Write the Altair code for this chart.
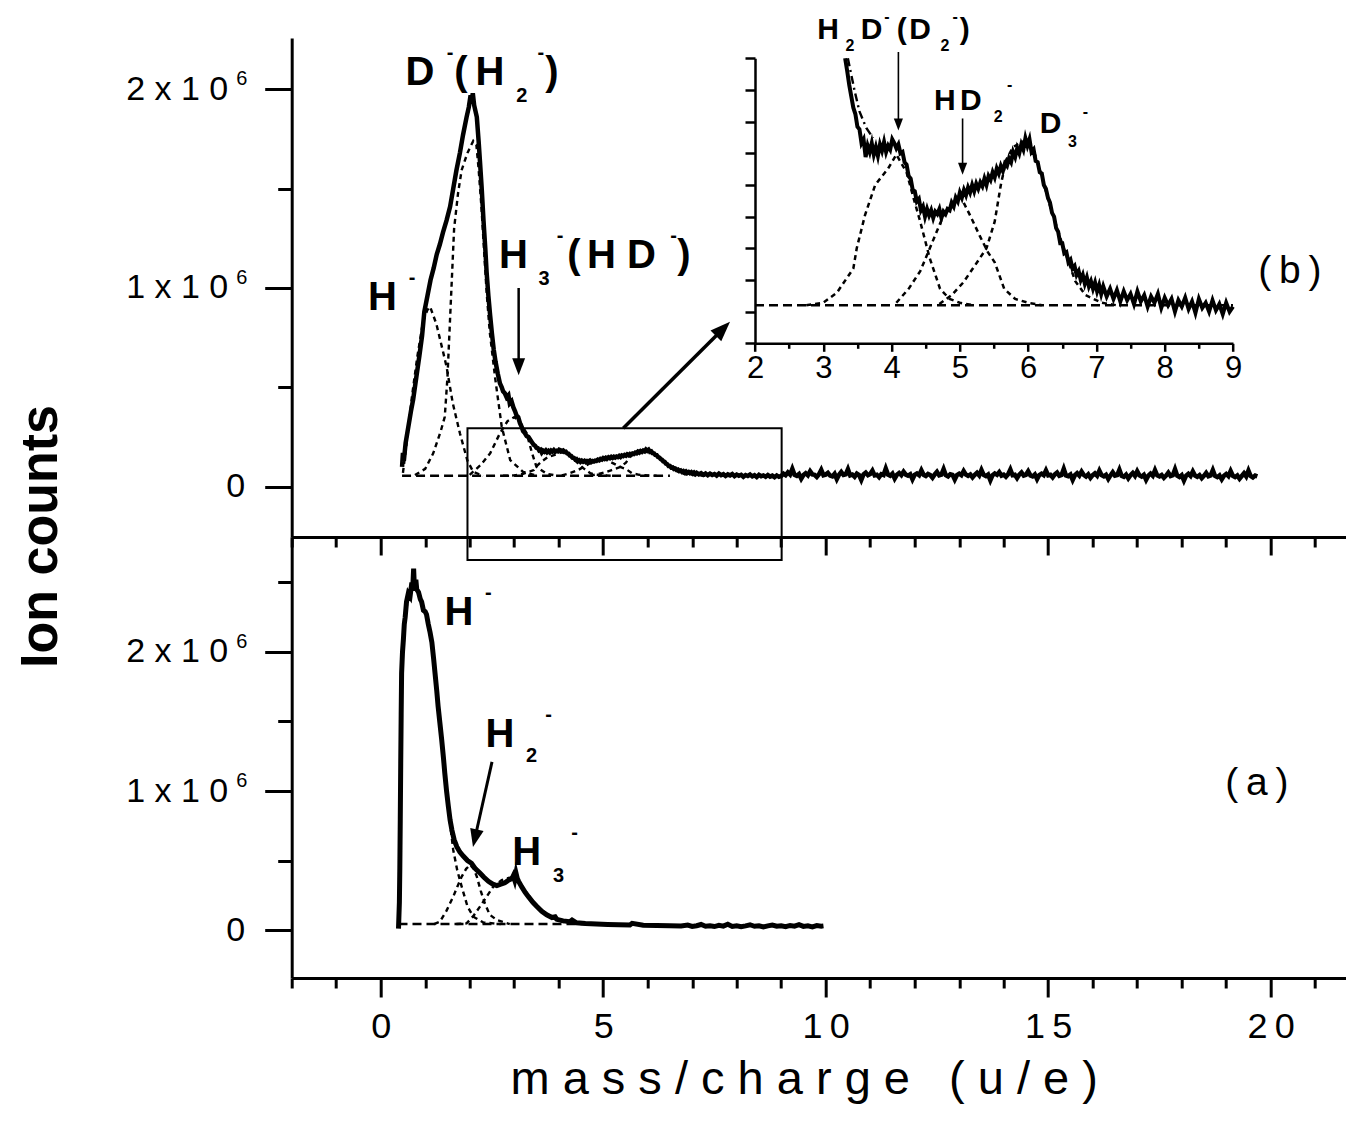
import altair as alt
import pandas as pd

FONT = "Liberation Sans"

# ---------------- spectra (ion counts, in units of 1e6) ----------------
upper_rise = [(0.48,0.10),(0.50,0.17),(0.52,0.13),(0.56,0.22),(0.62,0.30),(0.68,0.38),(0.73,0.44),(0.80,0.55),
 (0.87,0.66),(0.93,0.76),(0.98,0.88),(1.05,0.96),(1.12,1.04),(1.19,1.10),(1.26,1.17),(1.33,1.22),(1.40,1.28),
 (1.48,1.34),(1.56,1.41),(1.63,1.50),(1.70,1.59),(1.78,1.68),(1.85,1.77),(1.93,1.86),(1.98,1.91),(2.02,1.97),
 (2.04,1.94),(2.07,1.98),(2.10,1.92),(2.16,1.86),(2.20,1.74),(2.23,1.64),(2.27,1.50),(2.31,1.34),(2.35,1.20),
 (2.38,1.08),(2.42,0.96),(2.46,0.86),(2.50,0.77),(2.54,0.69),(2.58,0.63),(2.63,0.57),(2.68,0.52),(2.72,0.50),
 (2.75,0.48),(2.79,0.47),(2.83,0.45),(2.87,0.46),(2.90,0.42),(2.94,0.43),(2.98,0.40),(3.02,0.38),(3.05,0.36),
 (3.09,0.35),(3.13,0.32),(3.17,0.30),(3.20,0.28),(3.24,0.27),(3.28,0.255)]

upper_zoom = [(3.32,0.250),(3.35,0.240),(3.38,0.229),(3.41,0.220),(3.44,0.211),(3.47,0.206),(3.50,0.196),
 (3.53,0.194),(3.56,0.183),(3.59,0.186),(3.62,0.172),(3.65,0.181),(3.68,0.176),(3.71,0.183),(3.74,0.174),
 (3.77,0.180),(3.80,0.173),(3.83,0.182),(3.86,0.177),(3.89,0.184),(3.92,0.176),(3.95,0.181),(3.98,0.178),
 (4.01,0.186),(4.04,0.183),(4.07,0.179),(4.10,0.182),(4.13,0.175),(4.16,0.176),(4.19,0.168),(4.22,0.166),
 (4.25,0.157),(4.28,0.155),(4.31,0.146),(4.34,0.145),(4.37,0.137),(4.40,0.139),(4.43,0.130),(4.46,0.133),
 (4.49,0.125),(4.52,0.131),(4.55,0.126),(4.58,0.130),(4.61,0.124),(4.64,0.129),(4.67,0.127),(4.70,0.131),
 (4.73,0.124),(4.76,0.129),(4.79,0.127),(4.82,0.131),(4.85,0.130),(4.88,0.136),(4.91,0.133),(4.94,0.140),
 (4.97,0.137),(5.00,0.144),(5.03,0.140),(5.06,0.146),(5.09,0.142),(5.12,0.148),(5.15,0.144),(5.18,0.150),
 (5.21,0.145),(5.24,0.151),(5.27,0.147),(5.30,0.152),(5.33,0.149),(5.36,0.155),(5.39,0.150),(5.42,0.157),
 (5.45,0.154),(5.48,0.160),(5.51,0.156),(5.54,0.163),(5.57,0.159),(5.60,0.165),(5.63,0.161),(5.66,0.167),
 (5.69,0.165),(5.72,0.171),(5.75,0.168),(5.78,0.176),(5.81,0.172),(5.84,0.179),(5.87,0.175),(5.90,0.182),
 (5.93,0.178),(5.96,0.187),(5.99,0.181),(6.02,0.186),(6.05,0.176),(6.08,0.178),(6.11,0.169),(6.14,0.168),
 (6.17,0.160),(6.20,0.159),(6.23,0.150),(6.26,0.147),(6.29,0.140),(6.32,0.136),(6.35,0.128),(6.38,0.125),
 (6.41,0.116),(6.44,0.113),(6.47,0.104),(6.50,0.104),(6.53,0.096),(6.56,0.097),(6.59,0.089),(6.62,0.091),
 (6.65,0.084),(6.68,0.086),(6.71,0.079),(6.74,0.082),(6.77,0.075),(6.80,0.079),(6.83,0.072),(6.86,0.077),
 (6.89,0.070),(6.92,0.074),(6.95,0.068),(6.98,0.073),(7.01,0.066),(7.04,0.071),(7.07,0.064),(7.10,0.070),
 (7.15,0.062),(7.20,0.068),(7.25,0.060),(7.30,0.067),(7.35,0.058),(7.40,0.066),(7.45,0.059),(7.50,0.064),
 (7.55,0.056),(7.60,0.066),(7.65,0.058),(7.70,0.063),(7.75,0.054),(7.80,0.062),(7.85,0.057),(7.90,0.064),
 (7.95,0.053),(8.00,0.061),(8.05,0.055),(8.10,0.060),(8.15,0.050),(8.20,0.059),(8.25,0.054),(8.30,0.061),
 (8.35,0.052),(8.40,0.058),(8.45,0.049),(8.50,0.060),(8.55,0.053),(8.60,0.057),(8.65,0.050),(8.70,0.059),
 (8.75,0.051),(8.80,0.056),(8.85,0.048),(8.90,0.057),(8.95,0.050),(9.00,0.054)]

# long flat tail of the upper spectrum, sampled every 0.05 u/e from 9.05 to 19.70
upper_tail_start = 9.05
upper_tail_step = 0.05
upper_tail_y = [
 0.066,0.058,0.072,0.061,0.090,0.060,0.055,0.064,0.040,0.059,0.068,0.057,0.078,0.062,0.060,0.049,0.063,0.085,0.058,0.061,
 0.070,0.056,0.052,0.065,0.038,0.060,0.074,0.059,0.062,0.088,0.057,0.061,0.050,0.066,0.059,0.034,0.062,0.071,0.058,0.064,
 0.081,0.057,0.060,0.048,0.063,0.059,0.092,0.061,0.055,0.066,0.041,0.060,0.069,0.058,0.076,0.061,0.056,0.063,0.037,0.060,
 0.067,0.058,0.083,0.060,0.054,0.064,0.059,0.045,0.062,0.075,0.057,0.061,0.089,0.058,0.052,0.063,0.060,0.036,0.059,0.066,
 0.058,0.079,0.061,0.055,0.062,0.047,0.060,0.070,0.057,0.084,0.059,0.053,0.061,0.032,0.058,0.067,0.060,0.074,0.056,0.061,
 0.050,0.063,0.087,0.058,0.060,0.043,0.061,0.072,0.056,0.060,0.078,0.057,0.052,0.062,0.038,0.059,0.066,0.058,0.082,0.057,
 0.060,0.047,0.062,0.071,0.055,0.059,0.090,0.057,0.053,0.061,0.034,0.058,0.068,0.056,0.076,0.059,0.051,0.062,0.044,0.058,
 0.067,0.055,0.081,0.058,0.052,0.060,0.039,0.057,0.073,0.056,0.059,0.086,0.055,0.050,0.061,0.042,0.058,0.069,0.054,0.078,
 0.057,0.051,0.060,0.035,0.056,0.066,0.055,0.083,0.057,0.052,0.059,0.045,0.056,0.071,0.054,0.058,0.088,0.055,0.049,0.058,
 0.031,0.056,0.065,0.054,0.077,0.056,0.050,0.058,0.043,0.055,0.070,0.053,0.057,0.084,0.054,0.048,0.057,0.037,0.055,0.064,
 0.053,0.079,0.055,0.049,0.057,0.040,0.054,0.068,0.052,0.081,0.054,0.047,0.056,0.052]

lower_curve = [(0.40,0.01),(0.42,0.20),(0.43,0.45),(0.44,0.80),(0.45,1.20),(0.46,1.55),(0.47,1.85),(0.49,2.00),
 (0.51,2.09),(0.53,2.20),(0.55,2.25),(0.58,2.36),(0.62,2.42),(0.66,2.40),(0.70,2.50),(0.72,2.46),(0.74,2.60),
 (0.76,2.44),(0.79,2.52),(0.81,2.45),(0.85,2.43),(0.89,2.38),(0.92,2.36),(0.96,2.30),(1.00,2.29),(1.03,2.27),
 (1.07,2.20),(1.11,2.14),(1.15,2.07),(1.19,1.95),(1.22,1.85),(1.26,1.72),(1.29,1.61),(1.33,1.49),(1.37,1.37),
 (1.41,1.24),(1.44,1.13),(1.48,1.00),(1.52,0.89),(1.56,0.79),(1.60,0.72),(1.65,0.65),(1.71,0.60),(1.78,0.56),
 (1.86,0.53),(1.95,0.50),(2.04,0.48),(2.13,0.44),(2.23,0.41),(2.32,0.38),(2.42,0.35),(2.52,0.33),(2.61,0.32),
 (2.70,0.33),(2.79,0.34),(2.88,0.36),(2.95,0.37),(2.98,0.39),(3.01,0.36),(3.04,0.41),(3.07,0.37),(3.10,0.35),
 (3.17,0.31),(3.25,0.27),(3.32,0.24),(3.42,0.20),(3.51,0.17),(3.62,0.135),(3.73,0.11),(3.85,0.09),(3.92,0.095),
 (3.96,0.077),(4.10,0.066),(4.25,0.06),(4.30,0.072),(4.40,0.052),(4.60,0.047),(4.85,0.043),(5.10,0.040),
 (5.35,0.038),(5.60,0.036),(5.65,0.048),(5.90,0.034),(6.20,0.032),(6.50,0.031),(6.75,0.029),(6.9,0.036),
 (7.0,0.026),(7.1,0.031),(7.2,0.040),(7.3,0.027),(7.4,0.030),(7.5,0.025),(7.6,0.034),(7.7,0.028),(7.8,0.042),
 (7.9,0.026),(8.0,0.031),(8.1,0.024),(8.2,0.030),(8.3,0.038),(8.4,0.027),(8.5,0.031),(8.6,0.022),(8.7,0.030),
 (8.8,0.036),(8.9,0.027),(9.0,0.030),(9.1,0.024),(9.2,0.033),(9.3,0.028),(9.4,0.039),(9.5,0.026),(9.6,0.030),
 (9.7,0.023),(9.8,0.032),(9.9,0.028),(9.95,0.030)]

# ---------------- fitted components (dashed) ----------------
up_comp_H = [(0.50,0.07),(0.60,0.25),(0.70,0.45),(0.82,0.65),(0.95,0.83),(1.05,0.89),(1.11,0.906),(1.25,0.82),
 (1.40,0.68),(1.48,0.604),(1.62,0.42),(1.78,0.269),(1.95,0.13),(2.08,0.075),(2.30,0.055)]
up_comp_D = [(0.77,0.059),(1.00,0.09),(1.18,0.168),(1.35,0.28),(1.44,0.352),(1.50,0.55),(1.55,0.80),(1.60,1.05),
 (1.65,1.30),(1.74,1.48),(1.82,1.594),(1.95,1.68),(2.08,1.74),(2.15,1.72),(2.20,1.60),(2.26,1.42),(2.32,1.20),
 (2.38,0.98),(2.45,0.78),(2.57,0.55),(2.72,0.302),(2.91,0.134),(3.20,0.075),(3.50,0.056)]
up_comp_H3 = [(2.00,0.06),(2.25,0.11),(2.46,0.168),(2.68,0.269),(2.85,0.33),(3.00,0.35),(3.12,0.33),(3.28,0.269),
 (3.40,0.17),(3.50,0.10),(3.73,0.065),(3.95,0.056)]
comp_H2D = [(2.75,0.055),(3.00,0.057),(3.20,0.065),(3.44,0.084),(3.49,0.100),(3.61,0.126),(3.76,0.150),
 (3.95,0.163),(4.07,0.174),(4.22,0.160),(4.32,0.140),(4.42,0.121),(4.56,0.092),(4.71,0.068),(4.85,0.060),
 (5.00,0.057),(5.20,0.055)]
comp_HD2 = [(4.07,0.057),(4.25,0.068),(4.42,0.082),(4.56,0.100),(4.76,0.126),(4.90,0.134),(5.00,0.142),
 (5.15,0.126),(5.29,0.110),(5.41,0.097),(5.51,0.089),(5.65,0.068),(5.81,0.060),(6.00,0.057),(6.20,0.055)]
comp_D3 = [(4.70,0.056),(4.88,0.063),(5.05,0.073),(5.19,0.084),(5.39,0.100),(5.51,0.121),(5.60,0.150),
 (5.68,0.170),(5.78,0.180),(5.95,0.185),(6.10,0.174),(6.20,0.157),(6.30,0.137),(6.49,0.105),(6.69,0.074),
 (6.84,0.063),(7.08,0.057),(7.30,0.055)]
envelope = [(3.36,0.250),(3.46,0.224),(3.53,0.208),(3.63,0.195),(3.73,0.187)]
up_baseline = [(0.48,0.055),(6.5,0.055)]
inset_baseline = [(2.0,0.055),(9.0,0.055)]

lo_comp_H = [(0.40,0.043),(0.42,0.30),(0.44,0.90),(0.46,1.60),(0.49,2.00),(0.55,2.25),(0.62,2.40),(0.72,2.46),
 (0.82,2.44),(0.92,2.35),(1.03,2.26),(1.15,2.06),(1.22,1.85),(1.29,1.60),(1.37,1.35),(1.44,1.12),(1.52,0.87),
 (1.63,0.576),(1.72,0.43),(1.82,0.312),(1.95,0.17),(2.08,0.096),(2.30,0.055),(2.53,0.048),(2.70,0.043)]
lo_comp_H2 = [(1.20,0.043),(1.33,0.06),(1.48,0.14),(1.63,0.24),(1.72,0.31),(1.82,0.384),(1.92,0.44),(2.01,0.468),
 (2.09,0.44),(2.16,0.384),(2.25,0.28),(2.34,0.192),(2.45,0.11),(2.61,0.072),(2.90,0.043)]
lo_comp_H3 = [(1.70,0.043),(1.93,0.048),(2.08,0.10),(2.23,0.168),(2.38,0.24),(2.53,0.312),(2.72,0.36),(2.98,0.384),
 (3.10,0.35),(3.20,0.288),(3.38,0.21),(3.58,0.144),(3.75,0.10),(3.96,0.072),(4.15,0.055),(4.33,0.048),(4.60,0.043)]
lo_baseline = [(0.40,0.043),(5.0,0.043)]

# ---------------- annotations (glyph, x, y, font size) in panel data units ----------------
up_labels = [("D",0.883,2.022,40),("-",1.557,2.154,20),("(",1.804,2.022,40),("H",2.456,2.022,40),
 ("2",3.17,1.938,20),("-",3.60,2.154,20),(")",3.85,2.022,40),
 ("H",0.04,0.889,40),("-",0.703,1.019,20),
 ("H",2.984,1.099,40),("3",3.67,1.015,20),("-",4.03,1.229,20),("(",4.344,1.099,40),("H",4.962,1.099,40),
 ("D",5.861,1.099,40),("-",6.58,1.229,20),(")",6.816,1.099,40)]
lo_labels = [("H",1.76,2.194,40),("-",2.42,2.381,20),("H",2.681,1.319,40),("2",3.389,1.211,20),
 ("-",3.771,1.506,20),("H",3.281,0.468,40),("3",3.996,0.347,20),("-",4.355,0.655,20)]
in_labels = [("H",3.069,0.2656,30),("2",3.39,0.256,16),("D",3.706,0.2656,30),("-",3.93,0.2785,16),
 ("(",4.148,0.2656,30),("D",4.416,0.2656,30),("2",4.78,0.256,16),("-",4.93,0.2785,16),(")",5.07,0.2656,30),
 ("H",4.78,0.209,30),("D",5.16,0.209,30),("2",5.56,0.1995,16),("-",5.73,0.225,16),
 ("D",6.33,0.1907,30),("3",6.65,0.180,16),("-",6.84,0.204,16)]
panel_tags = {"b": (20.43, 1.025), "a": (19.69, 0.971)}

# exponent of the y tick labels (x10^6), one per labelled non-zero tick
exp_ticks = [1, 2]
exp_text = "6"

# arrows: (x_tail, y_tail, x_end, y_end, width) and heads (x_tip, y_tip, angle, size)
up_arrows = [(3.10,1.0,3.10,0.63,2.5),(5.45,0.294,7.60,0.774,3.5)]
up_heads = [(3.10,0.561,0,1156),(7.85,0.830,225,1600)]
lo_arrows = [(2.501,1.209,2.142,0.696,3.0)]
lo_heads = [(2.074,0.597,12.6,1296)]
in_arrows = [(4.10,0.255,4.10,0.200,1.6),(5.04,0.2025,5.04,0.166,1.6)]
in_heads = [(4.10,0.193,0,576),(5.04,0.158,0,576)]
zoom_box = [(1.95, 9.01, 0.294, -0.369)]

# ---------------- helpers ----------------
def pts(p):
    return pd.DataFrame({"x": [a for a, b in p], "y": [b for a, b in p]})

def comps(d):
    rows = []
    for k, p in d.items():
        for a, b in p:
            rows.append({"x": a, "y": b, "c": k})
    return pd.DataFrame(rows)

def labels(p):
    return pd.DataFrame({"t": [a[0] for a in p], "x": [a[1] for a in p], "y": [a[2] for a in p], "s": [a[3] for a in p]})

def arrows(p):
    return pd.DataFrame({"x": [a[0] for a in p], "y": [a[1] for a in p], "x2": [a[2] for a in p], "y2": [a[3] for a in p], "w": [a[4] for a in p]})

def heads(p):
    return pd.DataFrame({"x": [a[0] for a in p], "y": [a[1] for a in p], "a": [a[2] for a in p], "s": [a[3] for a in p]})

HEAD = "M0,0 L-0.38,-1 L0.38,-1 Z"

X_MIN = -2
W = 23.7 * 44.5
H = 940
xs_main = alt.Scale(domain=[X_MIN, 21.7], range=[0, W], nice=False, zero=False)
ys_up = alt.Scale(domain=[-0.253, 2.258], range=[499, 0], nice=False, zero=False)
ys_lo = alt.Scale(domain=[-0.345, 2.827], range=[940, 499], nice=False, zero=False)
xs_in = alt.Scale(domain=[2, 9], range=[463.3, 941.3], nice=False, zero=False)
ys_in = alt.Scale(domain=[0.025, 0.25], range=[305.3, 20.3], nice=False, zero=False)

common = dict(domainColor="black", tickColor="black", labelColor="black", labelFont=FONT, grid=False,
              labelFlush=False, labelOverlap=False, titleColor="black", titleFont=FONT)
minor_x = [-2, -1, 1, 2, 3, 4, 6, 7, 8, 9, 11, 12, 13, 14, 16, 17, 18, 19, 21]

yexpr = "datum.value == 0 ? '0' : datum.value + '\u00a0x\u00a01\u00a00'"
xexpr = "datum.value >= 10 ? floor(datum.value / 10) + '\u2009' + (datum.value % 10) : datum.label"
ypad = {"condition": {"test": "datum.value == 0", "value": 20}, "value": 37}

ax_up_x = alt.Axis(orient="bottom", offset=-441, values=[0, 5, 10, 15, 20], tickSize=18, tickWidth=3,
                   domainWidth=3, labels=False, **common)
ax_up_y = alt.Axis(orient="left", values=[0, 1, 2], tickSize=27, tickWidth=3, domainWidth=3,
                   labelFontSize=34, labelPadding=ypad, labelExpr=yexpr, **common)
ax_up_x_min = alt.Axis(orient="bottom", offset=-441, values=minor_x, tickSize=10, tickWidth=3,
                       domain=False, labels=False, **common)
ax_up_y_min = alt.Axis(orient="left", values=[0.5, 1.5], tickSize=14, tickWidth=3, domain=False,
                       labels=False, **common)

ax_lo_x = alt.Axis(orient="bottom", values=[0, 5, 10, 15, 20], tickSize=19, tickWidth=3, domainWidth=3,
                   labelFontSize=36, labelBaseline="alphabetic", labelPadding=41, labelExpr=xexpr,
                   titleFontSize=47, titleFontWeight="normal", titleX=512, titleY=102,
                   titleBaseline="middle", titleAlign="center", **common)
ax_lo_y = alt.Axis(orient="left", values=[0, 1, 2], tickSize=27, tickWidth=3, domainWidth=3,
                   labelFontSize=34, labelPadding=ypad, labelExpr=yexpr,
                   titleFontSize=52, titleFontWeight="bold", titleX=-250.7, titleY=498,
                   titleAngle=270, titleAlign="center", titleBaseline="middle", **common)
ax_lo_x_min = alt.Axis(orient="bottom", values=minor_x, tickSize=10, tickWidth=3, domain=False,
                       labels=False, **common)
ax_lo_y_min = alt.Axis(orient="left", values=[0.5, 1.5, 2.5], tickSize=14, tickWidth=3, domain=False,
                       labels=False, **common)

ax_in_x = alt.Axis(orient="bottom", offset=-634.7, values=[2, 3, 4, 5, 6, 7, 8, 9], tickSize=8,
                   tickWidth=2.5, domainWidth=2.5, labelFontSize=31, labelBaseline="alphabetic",
                   labelPadding=26, **common)
ax_in_x_min = alt.Axis(orient="bottom", offset=-634.7, values=[2.5, 3.5, 4.5, 5.5, 6.5, 7.5, 8.5],
                       tickSize=5, tickWidth=2.5, domain=False, labels=False, **common)
ax_in_y = alt.Axis(orient="left", offset=-463.3,
                   values=[0.025, 0.05, 0.075, 0.1, 0.125, 0.15, 0.175, 0.2, 0.225, 0.25],
                   tickSize=10, tickWidth=2.5, domainWidth=2.5, labels=False, **common)

SP = "\u00a0"
xtitle = SP.join(list("mass/charge")) + SP * 3 + SP.join(list("(u/e)"))


def panel_layers(X, Y, X2, Y2, curve_df, comp_df, base_df, lab_df, arr_df, head_df, curve_w, comp_w):
    layers = []
    layers.append(alt.Chart(base_df).mark_line(color="black", strokeWidth=comp_w, strokeDash=[9, 5])
                  .encode(x=X, y=Y))
    layers.append(alt.Chart(comp_df).mark_line(color="black", strokeWidth=comp_w, strokeDash=[5, 4])
                  .encode(x=X, y=Y, detail="c:N"))
    layers.append(alt.Chart(curve_df).mark_line(color="black", strokeWidth=curve_w, strokeJoin="miter",
                                                strokeMiterLimit=6).encode(x=X, y=Y))
    layers.append(alt.Chart(arr_df).mark_rule(color="black").encode(
        x=X, y=Y, x2=X2, y2=Y2, strokeWidth=alt.StrokeWidth("w:Q", scale=None)))
    layers.append(alt.Chart(head_df).mark_point(shape=HEAD, filled=True, fill="black", opacity=1,
                                                strokeWidth=0).encode(
        x=X, y=Y, angle=alt.Angle("a:Q", scale=None), size=alt.Size("s:Q", scale=None)))
    layers.append(alt.Chart(lab_df).mark_text(font=FONT, fontWeight="bold", color="black",
                                              align="center", baseline="alphabetic").encode(
        x=X, y=Y, text="t:N", size=alt.Size("s:Q", scale=None)))
    return layers


def exponent_layer(X, Y):
    df = pd.DataFrame({"x": [X_MIN] * len(exp_ticks), "y": exp_ticks, "t": [exp_text] * len(exp_ticks)})
    return alt.Chart(df).mark_text(font=FONT, fontSize=20, color="black", align="center",
                                   baseline="middle", dx=-50, dy=-10).encode(x=X, y=Y, text="t:N")


# ---------------- upper panel ----------------
XU = alt.X("x:Q", scale=xs_main, axis=ax_up_x, title=None)
YU = alt.Y("y:Q", scale=ys_up, axis=ax_up_y, title=None)
tail_df = pd.DataFrame({"x": [round(upper_tail_start + upper_tail_step * i, 2) for i in range(len(upper_tail_y))],
                        "y": upper_tail_y})
upper_df = pd.concat([pts(upper_rise), pts(upper_zoom), tail_df], ignore_index=True)
up_comp_df = comps({"H": up_comp_H, "D": up_comp_D, "H3": up_comp_H3, "H2D": comp_H2D,
                    "HD2": comp_HD2, "D3": comp_D3})
upper_layers = panel_layers(XU, YU, alt.X2("x2"), alt.Y2("y2"), upper_df, up_comp_df, pts(up_baseline),
                            labels(up_labels), arrows(up_arrows), heads(up_heads), 4.5, 2.4)
box_df = pd.DataFrame({"x": [b[0] for b in zoom_box], "x2": [b[1] for b in zoom_box],
                       "y": [b[2] for b in zoom_box], "y2": [b[3] for b in zoom_box]})
upper_layers.append(alt.Chart(box_df).mark_rect(fillOpacity=0, stroke="black", strokeWidth=2).encode(
    x=XU, x2=alt.X2("x2"), y=YU, y2=alt.Y2("y2")))
tag_b = pd.DataFrame({"x": [panel_tags["b"][0]], "y": [panel_tags["b"][1]], "t": ["(\u2009b\u2009)"]})
upper_layers.append(alt.Chart(tag_b).mark_text(font=FONT, fontSize=39, color="black", align="center",
                                               baseline="alphabetic").encode(x=XU, y=YU, text="t:N"))
upper_layers.append(exponent_layer(XU, YU))
upper = alt.layer(*upper_layers)

dummy_main = pd.DataFrame({"x": [0.0], "y": [0.0]})
upper_minor = alt.Chart(dummy_main).mark_point(opacity=0).encode(
    x=alt.X("x:Q", scale=xs_main, axis=ax_up_x_min, title=None),
    y=alt.Y("y:Q", scale=ys_up, axis=ax_up_y_min, title=None))

# ---------------- lower panel ----------------
XL = alt.X("x:Q", scale=xs_main, axis=ax_lo_x, title=xtitle)
YL = alt.Y("y:Q", scale=ys_lo, axis=ax_lo_y, title="Ion counts")
lo_comp_df = comps({"H": lo_comp_H, "H2": lo_comp_H2, "H3": lo_comp_H3})
lower_layers = panel_layers(XL, YL, alt.X2("x2"), alt.Y2("y2"), pts(lower_curve), lo_comp_df,
                            pts(lo_baseline), labels(lo_labels), arrows(lo_arrows), heads(lo_heads), 5, 2.4)
tag_a = pd.DataFrame({"x": [panel_tags["a"][0]], "y": [panel_tags["a"][1]], "t": ["(\u2009a\u2009)"]})
lower_layers.append(alt.Chart(tag_a).mark_text(font=FONT, fontSize=39, color="black", align="center",
                                               baseline="alphabetic").encode(x=XL, y=YL, text="t:N"))
lower_layers.append(exponent_layer(XL, YL))
lower = alt.layer(*lower_layers)

lower_minor = alt.Chart(dummy_main).mark_point(opacity=0).encode(
    x=alt.X("x:Q", scale=xs_main, axis=ax_lo_x_min, title=None),
    y=alt.Y("y:Q", scale=ys_lo, axis=ax_lo_y_min, title=None))

# ---------------- inset (b) ----------------
XI = alt.X("x:Q", scale=xs_in, axis=ax_in_x, title=None)
YI = alt.Y("y:Q", scale=ys_in, axis=ax_in_y, title=None)
in_comp_df = comps({"H2D": comp_H2D, "HD2": comp_HD2, "D3": comp_D3})
inset_layers = panel_layers(XI, YI, alt.X2("x2"), alt.Y2("y2"), pts(upper_zoom), in_comp_df,
                            pts(inset_baseline), labels(in_labels), arrows(in_arrows), heads(in_heads), 4, 2.5)
inset_layers.append(alt.Chart(pts(envelope)).mark_line(color="black", strokeWidth=2.4,
                                                       strokeDash=[8, 4, 2, 4]).encode(x=XI, y=YI))
inset = alt.layer(*inset_layers)

dummy_in = pd.DataFrame({"x": [5.0], "y": [0.1]})
inset_minor = alt.Chart(dummy_in).mark_point(opacity=0).encode(
    x=alt.X("x:Q", scale=xs_in, axis=ax_in_x_min, title=None),
    y=alt.Y("y:Q", scale=ys_in, axis=None, title=None))

chart = alt.layer(upper, upper_minor, lower, lower_minor, inset, inset_minor).resolve_scale(
    x="independent", y="independent").properties(
    width=W, height=H,
    autosize=alt.AutoSizeParams(type="none"),
    padding={"left": 283.7, "top": 30, "right": 0, "bottom": 140},
    background="white",
).configure_view(stroke="transparent")

chart.save("out.html", embed_options={"renderer": "svg", "actions": False})
